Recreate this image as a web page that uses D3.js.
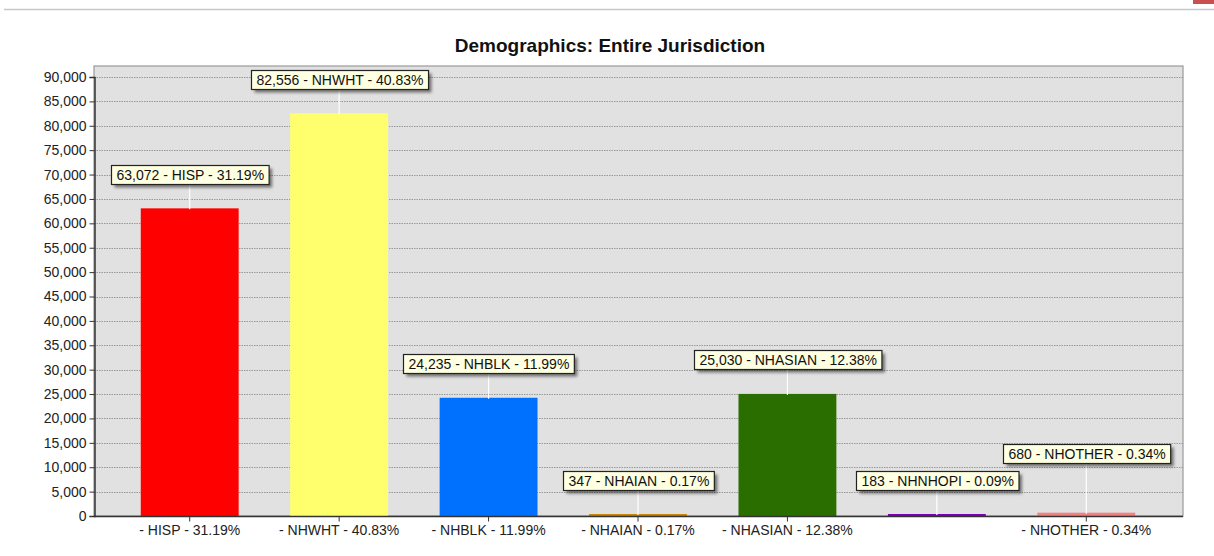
<!DOCTYPE html>
<html>
<head>
<meta charset="utf-8">
<script src="https://cdnjs.cloudflare.com/ajax/libs/d3/7.8.5/d3.min.js"></script>
<style>
  body { margin: 0; background: #fff; }
  svg { display: block; font-family: "Liberation Sans", Arial, sans-serif; }
</style>
</head>
<body>
<svg id="chart" width="1214" height="556"></svg>
<script>
var categories = ['HISP', 'NHWHT', 'NHBLK', 'NHAIAN', 'NHASIAN', 'NHNHOPI', 'NHOTHER'];
var values = [63072, 82556, 24235, 347, 25030, 183, 680];
var percents = ['31.19%', '40.83%', '11.99%', '0.17%', '12.38%', '0.09%', '0.34%'];
var colors = ['#ff0000', '#ffff6e', '#0070ff', '#c8860a', '#2a6e00', '#7a00b8', '#f48080'];
var yTicks = d3.range(0, 90001, 5000);
// the chart drops the crowded NHNHOPI axis label
var xTickCats = ['HISP', 'NHWHT', 'NHBLK', 'NHAIAN', 'NHASIAN', 'NHOTHER'];

var svg = d3.select('#chart');

var plotL = 94, plotR = 1183, plotT = 66, plotB = 516;

// top frame line + corner mark
svg.append('line')
    .attr('x1', 4).attr('x2', 1214).attr('y1', 9.5).attr('y2', 9.5)
    .attr('stroke', '#c8c8c8').attr('stroke-width', 1.5);
svg.append('rect')
    .attr('x', 1193).attr('y', 0).attr('width', 21).attr('height', 4)
    .attr('fill', '#c9504f');

svg.append('text')
    .attr('x', 610).attr('y', 52)
    .attr('text-anchor', 'middle')
    .style('font-size', '19px').style('font-weight', 'bold').style('fill', '#111')
    .text('Demographics: Entire Jurisdiction');

var y = d3.scaleLinear().domain([0, 90000]).range([plotB, 77]);
var x = d3.scaleBand().domain(categories)
    .range([115, 1161]).paddingInner(0.345).paddingOuter(0.1725);

// plot background
svg.append('rect')
    .attr('x', plotL).attr('y', plotT)
    .attr('width', plotR - plotL).attr('height', plotB - plotT)
    .attr('fill', '#e1e1e1')
    .attr('stroke', '#9a9a9a').attr('stroke-width', 1.2);

// grid
svg.append('g').selectAll('line')
    .data(yTicks.filter(function(t) { return t > 0; }))
    .enter().append('line')
        .attr('x1', plotL).attr('x2', plotR)
        .attr('y1', function(d) { return Math.round(y(d)) + 0.5; })
        .attr('y2', function(d) { return Math.round(y(d)) + 0.5; })
        .attr('stroke', '#999').attr('stroke-dasharray', '1.5,1');

// bars
var idx = d3.range(categories.length);
svg.append('g').selectAll('rect')
    .data(idx)
    .enter().append('rect')
        .attr('x', function(i) { return x(categories[i]); })
        .attr('y', function(i) { return Math.min(y(values[i]), plotB - 2); })
        .attr('width', x.bandwidth())
        .attr('height', function(i) { return Math.max(plotB - y(values[i]), 2); })
        .attr('fill', function(i) { return colors[i]; });

// axes
var yAxis = d3.axisLeft(y).tickValues(yTicks).tickSize(5).tickPadding(3)
    .tickFormat(d3.format(','));
var gy = svg.append('g').attr('transform', 'translate(' + (plotL + 0.5) + ',0)').call(yAxis);
var xAxis = d3.axisBottom(x).tickValues(xTickCats).tickSize(5).tickPadding(4)
    .tickFormat(function(c) { return '- ' + c + ' - ' + percents[categories.indexOf(c)]; });
var gx = svg.append('g').attr('transform', 'translate(0,' + (plotB + 0.5) + ')').call(xAxis);
gx.select('.domain').attr('d', 'M' + plotL + ',0H' + plotR);

[gy, gx].forEach(function(g) {
    g.select('.domain').attr('stroke', '#333').attr('stroke-width', 1.5);
    g.selectAll('.tick line').attr('stroke', '#333');
    g.selectAll('text').style('font-size', '14px').style('fill', '#222')
        .style('font-family', '"Liberation Sans", Arial, sans-serif');
});

// callout labels
var defs = svg.append('defs');
var f = defs.append('filter').attr('id', 'shadow')
    .attr('x', '-10%').attr('y', '-30%').attr('width', '130%').attr('height', '190%');
f.append('feGaussianBlur').attr('in', 'SourceAlpha').attr('stdDeviation', 1.5);
f.append('feOffset').attr('dx', 3).attr('dy', 3).attr('result', 'b');
f.append('feComponentTransfer').append('feFuncA').attr('type', 'linear').attr('slope', 0.5);

var boxH = 19, prevBox = null;
var labels = svg.append('g');
idx.forEach(function(i) {
    var cx = x(categories[i]) + x.bandwidth() / 2;
    var barTop = Math.min(y(values[i]), plotB - 2);
    var txt = d3.format(',')(values[i]) + ' - ' + categories[i] + ' - ' + percents[i];
    var g = labels.append('g');
    var t = g.append('text').style('font-size', '14px').style('fill', '#111').text(txt);
    var w = t.node().getComputedTextLength() + 10;
    var by = Math.round(barTop - 34 - boxH / 2);
    var bx = Math.round(cx - w / 2);
    // bump up if it collides with the previous callout
    if (prevBox && bx < prevBox.x + prevBox.w && by < prevBox.y + boxH + 8 && by + boxH > prevBox.y - 8) {
        by = prevBox.y - boxH - 8;
    }
    prevBox = { x: bx, y: by, w: w };
    labels.append('line')
        .attr('x1', cx).attr('x2', cx).attr('y1', by + boxH).attr('y2', barTop + 1)
        .attr('stroke', '#fff').attr('stroke-width', 1.2)
        .lower();
    g.insert('rect', 'text')
        .attr('x', bx + 0.5).attr('y', by + 0.5).attr('width', w).attr('height', boxH)
        .attr('fill', '#000').attr('filter', 'url(#shadow)');
    g.insert('rect', 'text')
        .attr('x', bx + 0.5).attr('y', by + 0.5).attr('width', w).attr('height', boxH)
        .attr('fill', '#ffffe1').attr('stroke', '#222').attr('stroke-width', 1.2);
    t.attr('x', bx + 5.5).attr('y', by + 15);
});
</script>
</body>
</html>
